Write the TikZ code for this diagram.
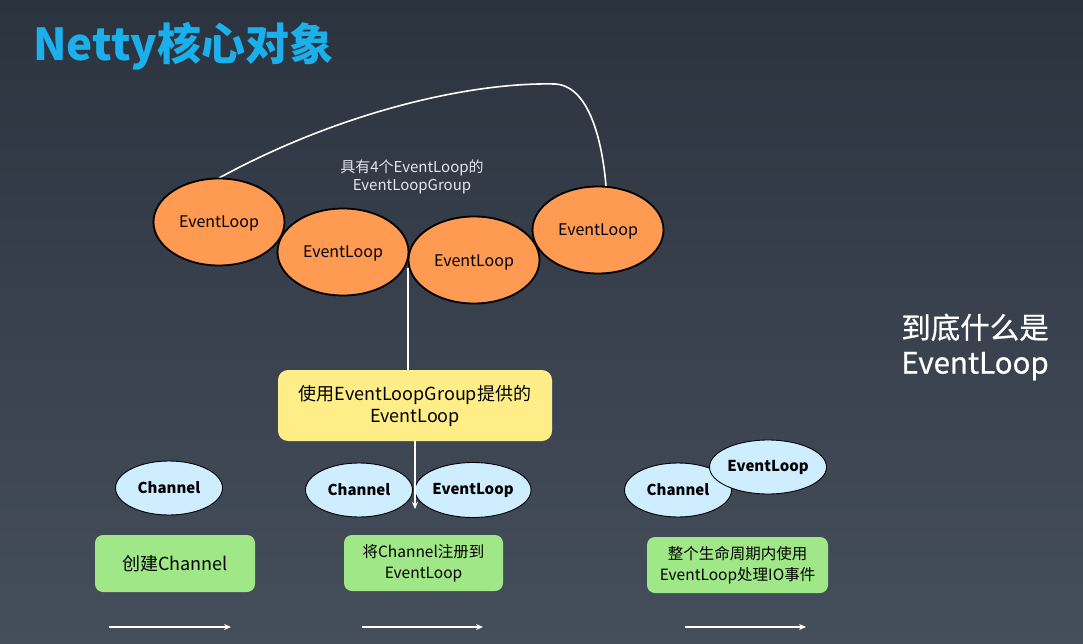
\documentclass[tikz,border=0pt]{standalone}
\usepackage{fontspec}
\setmainfont{Noto Sans CJK SC}
\newfontfamily\qfont[FakeBold=0.6]{Noto Sans CJK SC}
\usetikzlibrary{arrows.meta,shapes.geometric}
\definecolor{bgtop}{RGB}{43,51,63}
\definecolor{bgbot}{RGB}{69,79,91}
\definecolor{titleblue}{RGB}{27,176,236}
\definecolor{elorange}{RGB}{255,154,82}
\definecolor{chblue}{RGB}{206,237,255}
\definecolor{boxyellow}{RGB}{255,238,136}
\definecolor{boxgreen}{RGB}{160,232,135}
\definecolor{lbl}{RGB}{225,230,238}
\tikzset{
  fs/.style 2 args={font=\fontsize{#1}{#2}\selectfont},
  orangeel/.style={ellipse,draw=black,line width=1.8pt,fill=elorange,minimum width=131pt,minimum height=87pt,inner sep=0pt,fs={16}{20},text height=13pt,text depth=1pt},
  blueel/.style={ellipse,draw=black,line width=0.9pt,fill=chblue,minimum width=107pt,minimum height=54pt,inner sep=0pt,font=\fontsize{15}{18}\selectfont\bfseries},
  greenbox/.style={rectangle,rounded corners=8pt,fill=boxgreen,inner sep=0pt,align=center},
  wline/.style={draw=white,line width=1.6pt},
  warrow/.style={draw=white,line width=1.6pt,-{Stealth[length=7pt,width=6pt]}},
}
\begin{document}
\begin{tikzpicture}[x=1pt,y=-1pt]
\shade[top color=bgtop,bottom color=bgbot] (0,0) rectangle (1083,644);
\useasboundingbox (0,0) rectangle (1083,644);
% title
\node[anchor=west,text=titleblue,font=\fontsize{44}{50}\selectfont\bfseries,inner sep=0pt] (title) at (33,46) {Netty核心对象};
% group curve
\coordinate (cs) at (219,178);
\coordinate (cp) at (555,84);
\coordinate (ce) at (606,186);
\draw[wline] (cs) .. controls (340,112) and (470,82) .. (cp) .. controls (592,86) and (603,150) .. (ce);
% orange event loops
\node[orangeel] (e1) at (219,222) {EventLoop};
\node[orangeel] (e2) at (343,252) {EventLoop};
\node[orangeel] (e3) at (474,260) {EventLoop};
\node[orangeel] (e4) at (598,230) {EventLoop};
\node[text=lbl,align=center,fs={15}{18},inner sep=0pt] (glabel) at (412,177) {具有4个EventLoop的\\EventLoopGroup};
% yellow box
\node[rectangle,rounded corners=10pt,fill=boxyellow,minimum width=274pt,minimum height=71pt,inner sep=0pt,align=center,fs={18}{22}] (yb) at (415,405.5) {使用EventLoopGroup提供的\\EventLoop};
\coordinate (j) at (408,268);
\draw[wline] (j) -- (j |- yb.north);
% blue ellipses
\node[blueel] (c1) at (169,488) {Channel};
\node[blueel] (c2) at (359,490) {Channel};
\node[blueel,minimum width=116pt,minimum height=55pt] (l2) at (473,490) {EventLoop};
\node[blueel] (c3) at (678,490) {Channel};
\node[blueel,minimum width=117pt,minimum height=54pt] (l3) at (768,467) {EventLoop};
\coordinate (ya) at (415,509);
\draw[warrow] (yb.south -| ya) -- (ya);
% green boxes
\node[greenbox,minimum width=160pt,minimum height=57pt,fs={18}{22}] (g1) at (175,563.5) {创建Channel};
\node[greenbox,minimum width=159pt,minimum height=56pt,fs={15.5}{21}] (g2) at (423.5,563) {将Channel注册到\\EventLoop};
\node[greenbox,minimum width=181pt,minimum height=56pt,fs={15.5}{21}] (g3) at (737.5,565) {整个生命周期内使用\\EventLoop处理IO事件};
% bottom arrows
\coordinate (a1s) at (109,627); \coordinate (a1e) at (231,627);
\coordinate (a2s) at (362,627); \coordinate (a2e) at (483,627);
\coordinate (a3s) at (685,627); \coordinate (a3e) at (806,627);
\draw[warrow] (a1s) -- (a1e);
\draw[warrow] (a2s) -- (a2e);
\draw[warrow] (a3s) -- (a3e);
% right question
\node[text=white,align=center,font=\qfont\fontsize{29.5}{35}\selectfont,inner sep=0pt] (q) at (975,347) {到底什么是\\EventLoop};
\end{tikzpicture}
\end{document}
